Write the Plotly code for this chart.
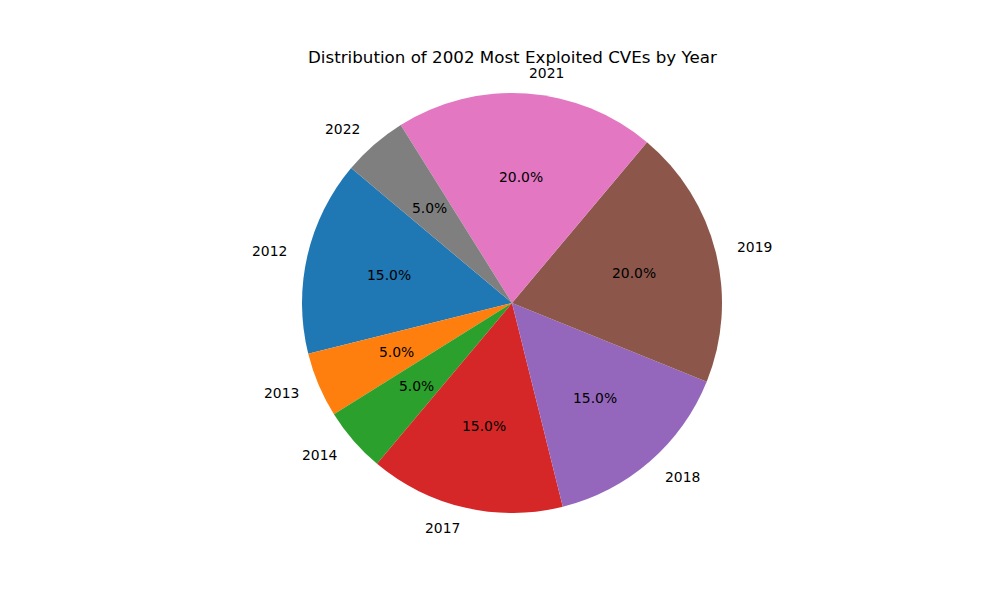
import math
import plotly.graph_objects as go

years = ["2012", "2013", "2014", "2017", "2018", "2019", "2021", "2022"]
counts = [3, 1, 1, 3, 3, 4, 4, 1]
colors = ["#1f77b4", "#ff7f0e", "#2ca02c", "#d62728", "#9467bd", "#8c564b", "#e377c2", "#7f7f7f"]
title = "Distribution of 2002 Most Exploited CVEs by Year"

W, H = 1000, 600
ML, MR, MT, MB = 24, 0, 93, 87
start_angle = 140.0
font = "DejaVu Sans, sans-serif"

total = sum(counts)
# plotly (counterclockwise) puts the END of the first slice at the rotation point
rotation = -(start_angle - 90) - 360 * counts[0] / total

fig = go.Figure(go.Pie(
    labels=years, values=counts, sort=False, direction="counterclockwise",
    rotation=rotation, marker=dict(colors=colors, line=dict(width=0)),
    textinfo="none", showlegend=False, hole=0,
))

pw, ph = W - ML - MR, H - MT - MB
cx, cy = ML + pw / 2, MT + ph / 2
R = min(pw, ph) / 2

def to_paper(px, py):
    return (px - ML) / pw, (H - MB - py) / ph

ann = []
cum = 0
for y, c in zip(years, counts):
    a0 = start_angle + 360 * cum / total
    cum += c
    a1 = start_angle + 360 * cum / total
    mid = math.radians((a0 + a1) / 2)
    co, si = math.cos(mid), math.sin(mid)
    x, yy = to_paper(cx + 1.1 * R * co, cy - 1.1 * R * si)
    ann.append(dict(x=x, y=yy, xref="paper", yref="paper", text=y, showarrow=False,
                    xanchor="left" if co > 0 else "right", yanchor="middle",
                    xshift=-1 if co > 0 else 2,
                    font=dict(family=font, size=13.9, color="black")))
    x, yy = to_paper(cx + 0.6 * R * co, cy - 0.6 * R * si)
    ann.append(dict(x=x, y=yy, xref="paper", yref="paper", text=f"{100 * c / total:.1f}%",
                    showarrow=False, xanchor="center", yanchor="middle",
                    font=dict(family=font, size=13.9, color="black")))

tx, ty = to_paper(512, 57)
ann.append(dict(x=tx, y=ty, xref="paper", yref="paper", text=title, showarrow=False,
                xanchor="center", yanchor="middle", font=dict(family=font, size=16.7, color="black")))

fig.update_layout(
    width=W, height=H, margin=dict(l=ML, r=MR, t=MT, b=MB, autoexpand=False),
    paper_bgcolor="white", plot_bgcolor="white", annotations=ann,
)
fig.write_html("out.html")
